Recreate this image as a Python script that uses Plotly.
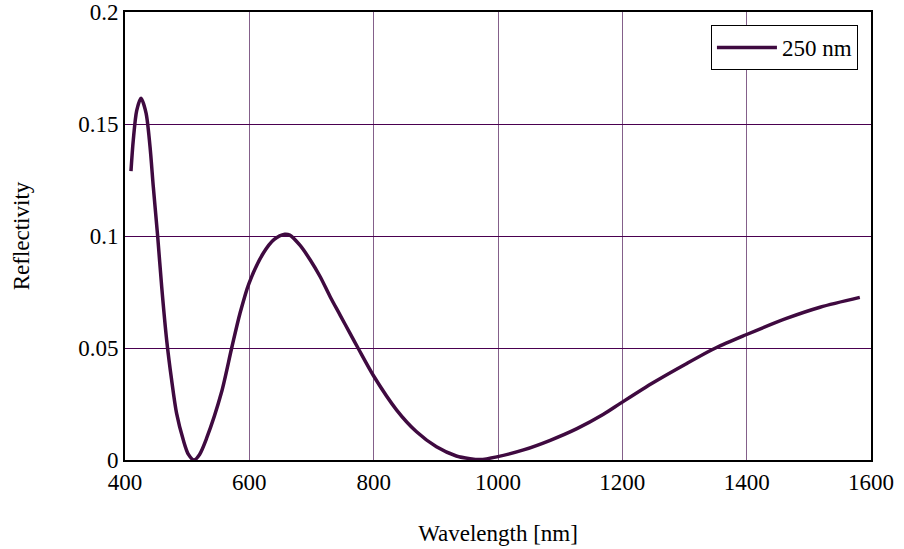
import plotly.graph_objects as go

wavelength = [409.6, 413.4, 418.8, 425.7, 433.8, 440.2, 445.5, 452.6, 459, 467, 475, 483,
              493.8, 502, 511, 520, 531, 555, 571.6, 585, 599.5, 622.4, 640, 657, 665, 681,
              698, 714, 730, 746, 762, 775, 800, 837, 869, 901, 933, 955, 971, 998, 1041,
              1084, 1127, 1169, 1198, 1250, 1303, 1350, 1398, 1464, 1518, 1582]
reflectivity = [0.129, 0.143, 0.156, 0.1615, 0.155, 0.140, 0.122, 0.0997, 0.0774, 0.0536,
                0.0357, 0.0208, 0.0089, 0.0025, 0.0, 0.0025, 0.0095, 0.030, 0.050, 0.0655,
                0.0789, 0.0923, 0.0985, 0.1008, 0.1004, 0.096, 0.0893, 0.0818, 0.0729,
                0.0647, 0.0565, 0.0499, 0.0375, 0.0223, 0.0126, 0.0059, 0.0018, 0.0006,
                0.0002, 0.0014, 0.0045, 0.0088, 0.0140, 0.0203, 0.0255, 0.0346, 0.043,
                0.050, 0.0558, 0.0632, 0.0682, 0.0726]
series_name = "250 nm"
x_ticks = [400, 600, 800, 1000, 1200, 1400, 1600]
y_ticks = [0, 0.05, 0.1, 0.15, 0.2]
y_tick_text = ["0", "0.05", "0.1", "0.15", "0.2"]

font_family = "serif"
font_size = 23

fig = go.Figure()
fig.add_trace(go.Scatter(
    x=wavelength, y=reflectivity, mode="lines", name=series_name,
    line=dict(color="#3f0a40", width=3.5, shape="spline", smoothing=0.8),
))

fig.update_layout(
    width=904, height=549,
    margin=dict(l=125, r=33, t=12, b=89),
    paper_bgcolor="white", plot_bgcolor="white",
    font=dict(family=font_family, size=font_size, color="black"),
    showlegend=True,
    legend=dict(
        x=0.9825, y=0.971, xanchor="right", yanchor="top",
        bordercolor="black", borderwidth=1, bgcolor="white",
        font=dict(family=font_family, size=font_size, color="black"),
        itemwidth=60, tracegroupgap=0,
    ),
    xaxis=dict(
        range=[400, 1600], tickvals=x_ticks, ticktext=[str(v) for v in x_ticks],
        showgrid=True, gridcolor="#84608a", gridwidth=1,
        showline=True, linecolor="black", linewidth=2, mirror=True,
        zeroline=False, ticks="", automargin=False, ticklabeloverflow="allow",
        title=dict(text="Wavelength [nm]", standoff=31,
                   font=dict(family=font_family, size=font_size)),
        tickfont=dict(family=font_family, size=font_size),
    ),
    yaxis=dict(
        range=[0, 0.2], tickvals=y_ticks, ticktext=y_tick_text,
        showgrid=True, gridcolor="#4a0050", gridwidth=1,
        showline=True, linecolor="black", linewidth=2, mirror=True,
        zeroline=False, ticks="", automargin=False, ticklabeloverflow="allow",
        title=dict(text="Reflectivity", standoff=42,
                   font=dict(family=font_family, size=font_size)),
        tickfont=dict(family=font_family, size=font_size),
    ),
)

fig.write_html("out.html", config={"displayModeBar": False},
               post_script="document.body.style.margin='0';")
